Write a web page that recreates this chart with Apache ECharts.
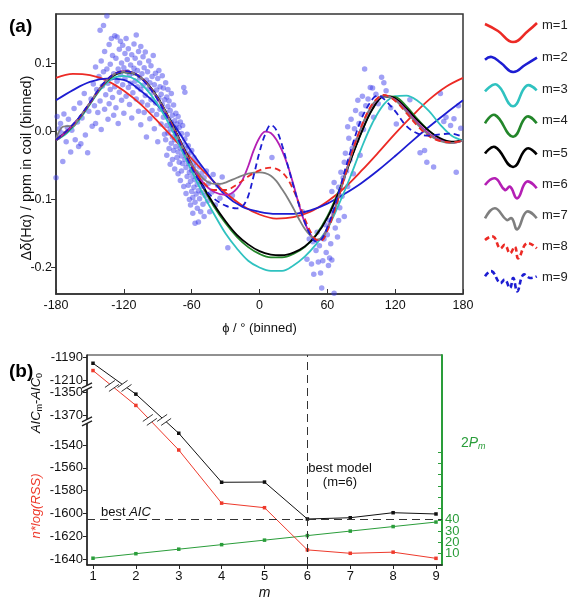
<!DOCTYPE html>
<html><head><meta charset="utf-8">
<script src="https://cdn.jsdelivr.net/npm/echarts@6/dist/echarts.min.js"></script>
<style>html,body{margin:0;padding:0;background:#fff}#c{width:578px;height:601px}</style>
</head><body><div id="c"></div>
<script>
// ---------- Panel (a) data ----------
const phiTicks = [-180,-120,-60,0,60,120,180];
const yTicksA = [-0.2,-0.1,0.0,0.1];
const scatterPts = [
[-180,-0.068],[-179,0.022],[-178,-0.008],[-177,0.004],[-176,0.012],[-175,-0.002],[-174,-0.044],[-173,0.026],[-171,-0.015],[-170,0.006],[-169,0.018],[-167,-0.03],[-166,0.002],[-164,0.034],[-163,-0.012],[-161,0.014],[-160,-0.022],[-159,0.042],[-158,-0.018],[-157,0.02],[-155,0.056],[-154,-0.005],[-152,-0.031],[-151,0.03],[-149,0.048],[-148,0.008],[-147,0.07],
[-146,0.038],[-145,0.095],[-145,0.012],[-144,0.062],[-143,0.028],[-142,0.081],[-141,0.149],[-141,0.045],[-140,0.104],[-140,0.003],[-139,0.067],[-138,0.156],[-138,0.088],[-137,0.033],[-137,0.118],[-136,0.054],[-135,0.17],[-135,0.092],[-134,0.071],[-134,0.018],[-133,0.128],[-133,0.041],[-132,0.099],[-132,0.062],[-131,0.137],[-131,0.079],[-130,0.112],[-130,0.05],[-129,0.085],[-129,0.024],[-128,0.141],[-128,0.066],
[-127,0.108],[-127,0.035],[-126,0.139],[-126,0.074],[-125,0.092],[-125,0.012],[-124,0.121],[-124,0.058],[-123,0.133],[-123,0.084],[-122,0.101],[-122,0.046],[-121,0.127],[-121,0.069],[-120,0.094],[-120,0.027],[-119,0.115],[-119,0.078],[-118,0.137],[-118,0.052],[-117,0.088],[-117,0.106],[-116,0.065],[-116,0.122],[-115,0.083],[-115,0.04],[-114,0.098],[-114,0.071],[-113,0.113],[-113,0.02],[-112,0.086],[-112,0.057],[-111,0.129],[-111,0.093],[-110,0.074],[-110,0.108],[-109,0.048],[-109,0.142],[-108,0.09],[-108,0.066],[-107,0.118],[-107,0.03],[-106,0.079],[-106,0.101],
[-105,0.062],[-105,0.125],[-105,0.01],[-104,0.085],[-104,0.043],[-103,0.11],[-103,0.068],[-102,0.028],[-102,0.094],[-101,0.053],[-101,0.117],[-100,0.076],[-100,-0.008],[-99,0.039],[-99,0.088],[-98,0.063],[-98,0.104],[-97,0.019],[-97,0.072],[-96,0.047],[-96,0.097],[-95,0.081],[-95,0.031],[-94,0.058],[-94,0.112],[-93,0.004],[-93,0.069],[-92,0.042],[-92,0.086],[-91,0.025],[-91,0.061],[-90,0.078],[-90,-0.015],[-89,0.049],[-89,0.09],[-88,0.033],[-88,0.066],[-87,0.011],[-87,0.055],[-86,0.082],[-86,0.04],[-85,0.021],[-85,0.064],[-84,-0.004],[-84,0.047],
[-83,0.028],[-83,0.072],[-83,-0.012],[-82,0.051],[-82,0.009],[-82,-0.035],[-81,0.037],[-81,0.062],[-81,-0.002],[-80,0.018],[-80,0.045],[-80,-0.025],[-79,0.031],[-79,0.004],[-79,-0.048],[-78,0.056],[-78,0.013],[-78,-0.017],[-77,0.024],[-77,-0.008],[-77,-0.041],[-76,0.039],[-76,0.002],[-76,-0.028],[-75,0.016],[-75,-0.012],[-75,-0.055],[-74,0.027],[-74,-0.022],[-74,0.005],[-73,-0.038],[-73,0.011],[-73,-0.006],[-72,-0.03],[-72,0.022],[-72,-0.062],[-71,-0.015],[-71,0.006],[-71,-0.045],[-70,-0.024],[-70,0.014],[-70,-0.072],[-69,-0.036],[-69,-0.003],[-69,-0.058],[-68,-0.019],[-68,0.009],[-68,-0.047],[-67,-0.029],[-67,-0.081],[-67,0.065],[-66,-0.041],[-66,-0.011],[-66,0.058],[-65,-0.053],[-65,-0.025],[-65,-0.091],[-64,-0.034],[-64,-0.066],[-64,-0.004],[-63,-0.047],[-63,-0.079],[-63,-0.021],[-62,-0.06],[-62,-0.032],[-62,-0.1],
[-61,-0.045],[-61,-0.073],[-61,-0.108],[-60,-0.057],[-60,-0.088],[-60,-0.028],[-59,-0.066],[-59,-0.097],[-59,-0.12],[-58,-0.051],[-58,-0.082],[-58,-0.038],[-57,-0.071],[-57,-0.104],[-57,-0.135],[-56,-0.06],[-56,-0.092],[-56,-0.045],[-55,-0.078],[-55,-0.113],[-54,-0.065],[-54,-0.087],[-54,-0.133],[-53,-0.052],[-53,-0.099],[-52,-0.074],[-52,-0.118],[-51,-0.061],[-51,-0.09],[-50,-0.081],[-50,-0.107],[-49,-0.068],[-49,-0.125],[-48,-0.094],
[-47,-0.058],[-46,-0.102],[-45,-0.076],[-44,-0.118],[-42,-0.089],[-41,-0.063],[-39,-0.108],[-37,-0.079],[-35,-0.098],[-33,-0.067],[-28,-0.171],[-24,-0.094],[11,-0.038],
[38,-0.118],[42,-0.188],[44,-0.158],[46,-0.195],[47,-0.162],[48,-0.21],[50,-0.175],[51,-0.148],[52,-0.192],[53,-0.168],[54,-0.208],[55,-0.23],[56,-0.19],[57,-0.158],[58,-0.137],[59,-0.178],[60,-0.152],[61,-0.197],[62,-0.186],
[62,-0.131],[63,-0.165],[64,-0.088],[64,-0.189],[65,-0.119],[66,-0.238],[66,-0.075],[67,-0.142],[68,-0.104],[69,-0.155],[70,-0.131],[70,-0.082],[71,-0.112],[72,-0.06],[73,-0.095],[74,-0.068],[75,-0.125],[75,-0.045],
[76,-0.032],[77,-0.058],[78,0.007],[78,-0.081],[79,-0.01],[80,-0.042],[81,0.018],[82,-0.025],[83,-0.062],[84,0.004],[85,0.031],[86,-0.013],[87,0.046],[88,0.012],[89,-0.035],[90,0.026],[91,0.052],[92,0.003],[93,0.092],[94,0.038],
[96,0.048],[98,0.065],[100,0.064],[101,0.021],[103,0.055],[105,0.041],[108,0.08],[110,0.072],[112,0.06],[116,0.035],[121,0.011],[133,0.047],
[142,-0.031],[146,-0.028],[148,-0.045],[154,-0.052],[160,0.056],[163,0.015],[165,0.021],[169,0.009],[172,0.019],[174,-0.06],[176,0.038],[178,0.005]
];
const fitM1 = [[-180,0.079],[-165,0.085],[-150,0.083],[-135,0.075],[-120,0.060],[-105,0.040],[-90,0.015],[-75,-0.012],[-60,-0.040],[-45,-0.066],[-30,-0.090],[-15,-0.109],[0,-0.122],[15,-0.128],[30,-0.126],[45,-0.118],[60,-0.103],[75,-0.083],[90,-0.058],[105,-0.031],[120,-0.003],[135,0.023],[150,0.047],[165,0.066],[180,0.079]];
const fitM2 = [[-180,0.046],[-165,0.061],[-150,0.073],[-135,0.078],[-120,0.076],[-105,0.060],[-90,0.038],[-75,0.008],[-60,-0.030],[-45,-0.064],[-30,-0.094],[-15,-0.111],[0,-0.118],[15,-0.121],[30,-0.121],[45,-0.116],[60,-0.106],[75,-0.092],[90,-0.076],[105,-0.057],[120,-0.036],[135,-0.014],[150,0.007],[165,0.027],[180,0.046]];
const fitM3 = [[-180,-0.013],[-170,-0.002],[-160,0.016],[-150,0.040],[-140,0.063],[-130,0.078],[-120,0.082],[-110,0.077],[-100,0.062],[-90,0.040],[-80,0.011],[-70,-0.023],[-60,-0.058],[-50,-0.092],[-40,-0.122],[-30,-0.150],[-20,-0.172],[-10,-0.190],[0,-0.200],[10,-0.205],[20,-0.205],[30,-0.197],[40,-0.184],[50,-0.166],[60,-0.143],[70,-0.108],[80,-0.068],[90,-0.025],[100,0.013],[110,0.040],[120,0.052],[130,0.053],[140,0.045],[150,0.030],[160,0.010],[170,-0.006],[180,-0.013]];
const fitM4 = [[-180,-0.013],[-170,0.000],[-160,0.018],[-150,0.041],[-140,0.065],[-130,0.081],[-120,0.087],[-110,0.084],[-100,0.071],[-90,0.049],[-80,0.019],[-70,-0.015],[-60,-0.050],[-50,-0.082],[-40,-0.111],[-30,-0.135],[-20,-0.155],[-10,-0.170],[0,-0.180],[10,-0.185],[20,-0.185],[30,-0.180],[40,-0.170],[50,-0.152],[60,-0.125],[70,-0.088],[80,-0.044],[90,-0.002],[100,0.034],[110,0.052],[120,0.051],[130,0.037],[140,0.018],[150,0.001],[160,-0.011],[170,-0.016],[180,-0.013]];
const fitM5 = [[-180,-0.012],[-170,0.001],[-160,0.019],[-150,0.042],[-140,0.066],[-130,0.082],[-120,0.088],[-110,0.085],[-100,0.072],[-90,0.050],[-80,0.020],[-70,-0.014],[-60,-0.048],[-50,-0.080],[-40,-0.108],[-30,-0.132],[-20,-0.152],[-10,-0.166],[0,-0.176],[10,-0.181],[20,-0.182],[30,-0.178],[40,-0.169],[50,-0.153],[60,-0.127],[70,-0.090],[80,-0.045],[90,-0.002],[100,0.033],[110,0.052],[120,0.049],[130,0.034],[140,0.016],[150,0.001],[160,-0.010],[170,-0.015],[180,-0.013]];
const fitM6 = [[-180,-0.013],[-170,0.001],[-160,0.019],[-150,0.042],[-140,0.066],[-130,0.083],[-120,0.089],[-110,0.085],[-100,0.071],[-90,0.048],[-80,0.018],[-70,-0.016],[-60,-0.050],[-50,-0.075],[-40,-0.089],[-30,-0.093],[-25,-0.091],[-20,-0.084],[-15,-0.071],[-10,-0.051],[-5,-0.027],[0,-0.009],[5,0.000],[10,-0.002],[15,-0.012],[20,-0.028],[25,-0.050],[30,-0.078],[35,-0.108],[40,-0.134],[45,-0.151],[50,-0.160],[55,-0.157],[60,-0.142],[65,-0.121],[70,-0.095],[80,-0.040],[90,0.006],[100,0.039],[110,0.053],[120,0.047],[130,0.031],[140,0.012],[150,-0.003],[160,-0.013],[170,-0.017],[180,-0.013]];
const fitM7 = [[-180,-0.011],[-175,0.006],[-170,0.008],[-165,0.008],[-160,0.019],[-150,0.042],[-140,0.066],[-130,0.083],[-120,0.088],[-110,0.085],[-100,0.071],[-90,0.049],[-80,0.019],[-70,-0.016],[-60,-0.048],[-50,-0.069],[-45,-0.075],[-40,-0.077],[-35,-0.077],[-30,-0.075],[-20,-0.068],[-10,-0.062],[0,-0.060],[5,-0.061],[10,-0.065],[15,-0.073],[20,-0.085],[25,-0.098],[30,-0.113],[35,-0.129],[40,-0.143],[45,-0.153],[50,-0.159],[55,-0.157],[60,-0.144],[65,-0.123],[70,-0.097],[80,-0.041],[90,0.006],[100,0.040],[110,0.053],[120,0.046],[130,0.029],[140,0.010],[150,-0.005],[160,-0.014],[170,-0.017],[180,-0.013]];
const fitM8 = [[-180,-0.012],[-170,0.002],[-160,0.019],[-150,0.042],[-140,0.066],[-130,0.083],[-120,0.089],[-110,0.085],[-100,0.071],[-90,0.048],[-80,0.018],[-70,-0.016],[-60,-0.050],[-50,-0.074],[-40,-0.086],[-30,-0.086],[-20,-0.078],[-10,-0.066],[0,-0.057],[10,-0.053],[15,-0.055],[20,-0.060],[25,-0.070],[30,-0.086],[35,-0.106],[40,-0.128],[45,-0.147],[50,-0.159],[55,-0.160],[60,-0.146],[65,-0.124],[70,-0.097],[80,-0.040],[90,0.007],[100,0.041],[110,0.054],[120,0.045],[130,0.027],[140,0.008],[150,-0.007],[160,-0.014],[170,-0.016],[180,-0.013]];
const fitM9 = [[-180,-0.012],[-170,0.002],[-160,0.020],[-150,0.043],[-140,0.067],[-130,0.083],[-120,0.089],[-110,0.085],[-100,0.070],[-90,0.047],[-80,0.016],[-70,-0.018],[-60,-0.053],[-50,-0.081],[-40,-0.099],[-30,-0.109],[-20,-0.113],[-15,-0.110],[-10,-0.095],[-5,-0.064],[0,-0.030],[5,-0.004],[10,0.010],[15,0.002],[20,-0.020],[25,-0.050],[30,-0.080],[35,-0.108],[40,-0.133],[45,-0.152],[50,-0.162],[55,-0.158],[60,-0.141],[65,-0.118],[70,-0.090],[80,-0.032],[90,0.018],[100,0.048],[105,0.053],[110,0.048],[120,0.030],[130,0.008],[140,-0.003],[150,-0.006],[160,-0.004],[170,-0.003],[180,-0.008]];
const fitNames = ['m=1','m=2','m=3','m=4','m=5','m=6','m=7','m=8','m=9'];

// ---------- Panel (b) data ----------
const mVals = [1,2,3,4,5,6,7,8,9];
const nLogRSS = [-1201.7,-1361.6,-1544.4,-1591,-1595,-1632,-1635,-1634,-1639.4];
const aicDiff = [-1195.3,-1351.7,-1529.7,-1572.7,-1572.5,-1604.9,-1603.8,-1599.4,-1600.5];
const twoP = [6,10,14,18,22,26,30,34,38];
const bestAIC = -1605;
const bestM = 6;
const leftTicksB = [-1640,-1620,-1600,-1580,-1560,-1540,-1370,-1350,-1210,-1190];
const greenLabelsOdd = [10,30];
const greenLabelsEven = [20,40];
const greenTicks = [10,20,30,40,50,60,70,80,90,100];

// broken-axis scale for the left axis of panel (b)
function toU(v){
  if (v <= -1500) return (v + 1640) / 20;
  if (v <= -1300) return 6.316 + (v + 1370) / 20;
  return 7.85 + (v + 1210) / 20;
}
const breakLevelsU = [6.1, 7.59];

const RED='#ec2a25', BLUE='#1d1dd2', CYAN='#2fc2c0', GREEN='#23862a', BLACK='#000000', MAG='#b41fb4', GRAY='#7f7f7f';
const GRN2='#2a9d3a';
const fitStyles = [
  {d:fitM1,c:RED,dash:false},{d:fitM2,c:BLUE,dash:false},{d:fitM3,c:CYAN,dash:false},
  {d:fitM4,c:GREEN,dash:false},{d:fitM5,c:BLACK,dash:false},{d:fitM6,c:MAG,dash:false},
  {d:fitM7,c:GRAY,dash:false},{d:fitM8,c:RED,dash:true},{d:fitM9,c:BLUE,dash:true}
];
const FONT = '"Liberation Sans", Arial, sans-serif';

const chart = echarts.init(document.getElementById('c'));

const series = [{
  type:'scatter', xAxisIndex:0, yAxisIndex:0, data:scatterPts, symbolSize:5.5,
  itemStyle:{color:'rgba(62,62,235,0.62)'}, silent:true, z:1
}];
fitStyles.forEach((f,i)=>{
  series.push({type:'line', name:fitNames[i], xAxisIndex:0, yAxisIndex:0, data:f.d, showSymbol:false,
    smooth:0.35, clip:true, silent:true, z:2+i,
    lineStyle:{color:f.c, width:1.8, type: f.dash ? [6,4] : 'solid'}});
});
series.push({type:'line', xAxisIndex:1, yAxisIndex:2, data:mVals.map((m,i)=>[m,twoP[i]]),
  symbol:'rect', symbolSize:3.5, itemStyle:{color:GRN2}, lineStyle:{color:GRN2, width:1}, silent:true, z:3});
series.push({type:'line', xAxisIndex:1, yAxisIndex:1, data:mVals.map((m,i)=>[m,toU(nLogRSS[i])]),
  symbol:'rect', symbolSize:3.5, itemStyle:{color:'#ee3a2c'}, lineStyle:{color:'#ee3a2c', width:1}, silent:true, z:3});
series.push({type:'line', xAxisIndex:1, yAxisIndex:1, data:mVals.map((m,i)=>[m,toU(aicDiff[i])]),
  symbol:'rect', symbolSize:3.5, itemStyle:{color:'#111'}, lineStyle:{color:'#111', width:1}, silent:true, z:4,
  markLine:{silent:true, symbol:'none', label:{show:false},
    lineStyle:{color:'#333', type:[8,5], width:1},
    data:[{yAxis:toU(bestAIC)},{xAxis:bestM}]}});

const axisTxt = {color:'#111', fontFamily:FONT};
const greenAxisBase = {type:'value', gridIndex:1, position:'right', min:0, max:185.8, splitLine:{show:false}};
const option = {
  animation:false,
  backgroundColor:'#fff',
  grid:[
    {left:56, top:14, width:407, height:280, show:true, borderColor:'#333', borderWidth:1.5},
    {left:87, top:355, width:355, height:210, show:true, borderColor:'#222', borderWidth:1}
  ],
  xAxis:[
    {type:'value', gridIndex:0, min:-180, max:180, interval:60,
     axisLine:{onZero:false, lineStyle:{color:'#333', width:1.5}},
     axisTick:{inside:true, length:5, lineStyle:{color:'#333'}},
     axisLabel:Object.assign({fontSize:12.5, margin:5, showMinLabel:true, showMaxLabel:true}, axisTxt),
     splitLine:{show:false},
     name:'ϕ / ° (binned)', nameLocation:'middle', nameGap:28,
     nameTextStyle:Object.assign({fontSize:13}, axisTxt)},
    {type:'value', gridIndex:1, min:0.86, max:9.14,
     axisLine:{onZero:false, lineStyle:{color:'#222', width:1.5}},
     axisTick:{customValues:mVals, length:4, lineStyle:{color:'#222'}},
     axisLabel:Object.assign({customValues:mVals, fontSize:13, margin:5}, axisTxt),
     splitLine:{show:false},
     name:'m', nameLocation:'middle', nameGap:21,
     nameTextStyle:Object.assign({fontSize:14, fontStyle:'italic'}, axisTxt)}
  ],
  yAxis:[
    {type:'value', gridIndex:0, min:-0.239, max:0.173,
     axisLine:{onZero:false, lineStyle:{color:'#333', width:1.5}},
     axisTick:{customValues:yTicksA, length:5, lineStyle:{color:'#333'}},
     axisLabel:Object.assign({customValues:yTicksA, fontSize:12.5, margin:4,
       formatter:v=>{const s=(Math.abs(v)<1e-9?0:v).toFixed(1);return s;}}, axisTxt),
     splitLine:{show:false}},
    {type:'value', gridIndex:1, min:-0.263, max:8.947,
     axisLine:{onZero:false, lineStyle:{color:'#222', width:1.5}},
     axisTick:{customValues:leftTicksB.map(toU), length:4, lineStyle:{color:'#222'}},
     axisLabel:Object.assign({customValues:leftTicksB.map(toU), fontSize:13, margin:4,
       formatter:v=>{let best=leftTicksB[0],d=1e9;leftTicksB.forEach(t=>{const dd=Math.abs(toU(t)-v);if(dd<d){d=dd;best=t;}});return String(best);}}, axisTxt),
     splitLine:{show:false}},
    Object.assign({}, greenAxisBase, {
     axisLine:{show:true, onZero:false, lineStyle:{color:GRN2, width:2}},
     axisTick:{customValues:greenTicks, inside:true, length:4, lineStyle:{color:GRN2}},
     axisLabel:{customValues:greenLabelsOdd, fontSize:13, margin:3, color:GRN2, fontFamily:FONT}}),
    Object.assign({}, greenAxisBase, {
     axisLine:{show:false}, axisTick:{show:false},
     axisLabel:{customValues:greenLabelsEven, fontSize:13, margin:3, color:GRN2, fontFamily:FONT}})
  ],
  series:series
};
chart.setOption(option);

// ---------- decorations (text, legend, break marks) ----------
const g = [];
g.push({type:'text', x:9, y:17, style:{text:'(a)', font:'bold 19px '+FONT, fill:'#000', verticalAlign:'top'}});
g.push({type:'text', x:9, y:362, style:{text:'(b)', font:'bold 19px '+FONT, fill:'#000', verticalAlign:'top'}});
g.push({type:'text', x:27, y:168, rotation:Math.PI/2,
  style:{text:'Δδ(Hα) / ppm in coil (binned)', font:'14.5px '+FONT, fill:'#111', align:'center', verticalAlign:'middle'}});

// legend
const iconShapes = [
  [[0,-1],[13,6],[28,17],[43,6],[52,-2]],
  [[0,2.7],[6.7,0],[16,6],[28,15],[40,8],[52,0.7]],
  [[0,2.3],[11.7,-4.3],[28,17.3],[41.7,-3.3],[51.7,1.3]],
  [[0,3.3],[10,-5],[28,16.7],[41.7,-3.3],[51.7,3.3]],
  [[0,0.6],[10,-6],[28,14],[41.7,-4.4],[51.7,1.3]],
  [[0,1],[10,-5.7],[20,6],[25,2.7],[32.3,14.3],[41.7,-2.3],[51.7,4.3]],
  [[0,3.3],[10,-6.7],[21.7,5],[26.7,3.3],[32.3,14.3],[41.7,-3.3],[51.7,3.3]],
  [[0,-6],[8.3,-9.3],[15,2.3],[20,-1],[25,7.3],[30,0.7],[33.3,12.3],[41.7,-2.7],[51.7,2.3]],
  [[0,-0.7],[6.7,-5.7],[15,6],[20,2.7],[25,11],[28.3,1],[32.3,14.3],[38.3,-2.3],[45,1],[51.7,-0.7]]
];
const legendY = [25,57,89,120,153,184,215,246,277];
fitStyles.forEach((f,i)=>{
  g.push({type:'polyline', shape:{points:iconShapes[i].map(p=>[485+p[0], legendY[i]+p[1]]), smooth:0.45},
    style:{stroke:f.c, lineWidth:2.6, fill:null, lineDash: f.dash?[5,3]:null}});
  g.push({type:'text', x:542, y:legendY[i], style:{text:fitNames[i], font:'13px '+FONT, fill:'#222', verticalAlign:'middle'}});
});

// panel b labels
g.push({type:'text', x:36, y:403, rotation:Math.PI/2,
  style:{text:'{i|AIC}{s|m}{n|-}{i|AIC}{s|0}', align:'center', verticalAlign:'middle',
    rich:{i:{font:'italic 13px '+FONT, fill:'#111', lineHeight:16},
          n:{font:'13px '+FONT, fill:'#111', lineHeight:16},
          s:{font:'9px '+FONT, fill:'#111', verticalAlign:'bottom', lineHeight:16, padding:[6,0,0,0]}}}});
g.push({type:'text', x:36, y:506, rotation:Math.PI/2,
  style:{text:'n*log(RSS)', font:'italic 13px '+FONT, fill:'#ee3a2c', align:'center', verticalAlign:'middle'}});
g.push({type:'text', x:461, y:443,
  style:{text:'{n|2}{i|P}{s|m}', verticalAlign:'middle',
    rich:{n:{font:'14px '+FONT, fill:GRN2, lineHeight:16},
          i:{font:'italic 14px '+FONT, fill:GRN2, lineHeight:16},
          s:{font:'italic 9px '+FONT, fill:GRN2, verticalAlign:'bottom', lineHeight:16, padding:[6,0,0,0]}}}});
g.push({type:'text', x:101, y:512,
  style:{text:'{n|best }{i|AIC}', verticalAlign:'middle',
    rich:{n:{font:'13px '+FONT, fill:'#111'}, i:{font:'italic 13px '+FONT, fill:'#111'}}}});
g.push({type:'text', x:340, y:468, style:{text:'best model', font:'13px '+FONT, fill:'#111', align:'center', verticalAlign:'middle'}});
g.push({type:'text', x:340, y:482, style:{text:'(m=6)', font:'13px '+FONT, fill:'#111', align:'center', verticalAlign:'middle'}});

// axis-break marks on left axis of panel b
const axX = chart.convertToPixel({xAxisIndex:1}, 0.86);
breakLevelsU.forEach(u=>{
  const y = chart.convertToPixel({yAxisIndex:1}, u);
  g.push({type:'polygon', shape:{points:[[axX-5,y+2],[axX+5,y-3],[axX+5,y+1],[axX-5,y+6]]}, style:{fill:'#fff'}, z:100});
  g.push({type:'line', shape:{x1:axX-5,y1:y+2,x2:axX+5,y2:y-3}, style:{stroke:'#222', lineWidth:1.5}, z:101});
  g.push({type:'line', shape:{x1:axX-5,y1:y+6,x2:axX+5,y2:y+1}, style:{stroke:'#222', lineWidth:1.5}, z:101});
});
// break marks on the data lines where they cross the break levels
[nLogRSS, aicDiff].forEach(arr=>{
  breakLevelsU.forEach(u=>{
    for (let i=0;i<arr.length-1;i++){
      const u0=toU(arr[i]), u1=toU(arr[i+1]);
      if ((u0-u)*(u1-u) < 0){
        const p0=chart.convertToPixel({xAxisIndex:1,yAxisIndex:1},[mVals[i],u0]);
        const p1=chart.convertToPixel({xAxisIndex:1,yAxisIndex:1},[mVals[i+1],u1]);
        const t=(u-u0)/(u1-u0);
        const cx=p0[0]+t*(p1[0]-p0[0]), cy=p0[1]+t*(p1[1]-p0[1]);
        g.push({type:'polygon', shape:{points:[[cx-6,cy+1],[cx+2,cy-5],[cx+6,cy-1],[cx-2,cy+5]]}, style:{fill:'#fff'}, z:100});
        g.push({type:'line', shape:{x1:cx-7,y1:cy+1.5,x2:cx+3,y2:cy-5.5}, style:{stroke:'#333', lineWidth:1}, z:101});
        g.push({type:'line', shape:{x1:cx-3,y1:cy+5.5,x2:cx+7,y2:cy-1.5}, style:{stroke:'#333', lineWidth:1}, z:101});
      }
    }
  });
});
chart.setOption({graphic:g});
</script>
</body></html>
